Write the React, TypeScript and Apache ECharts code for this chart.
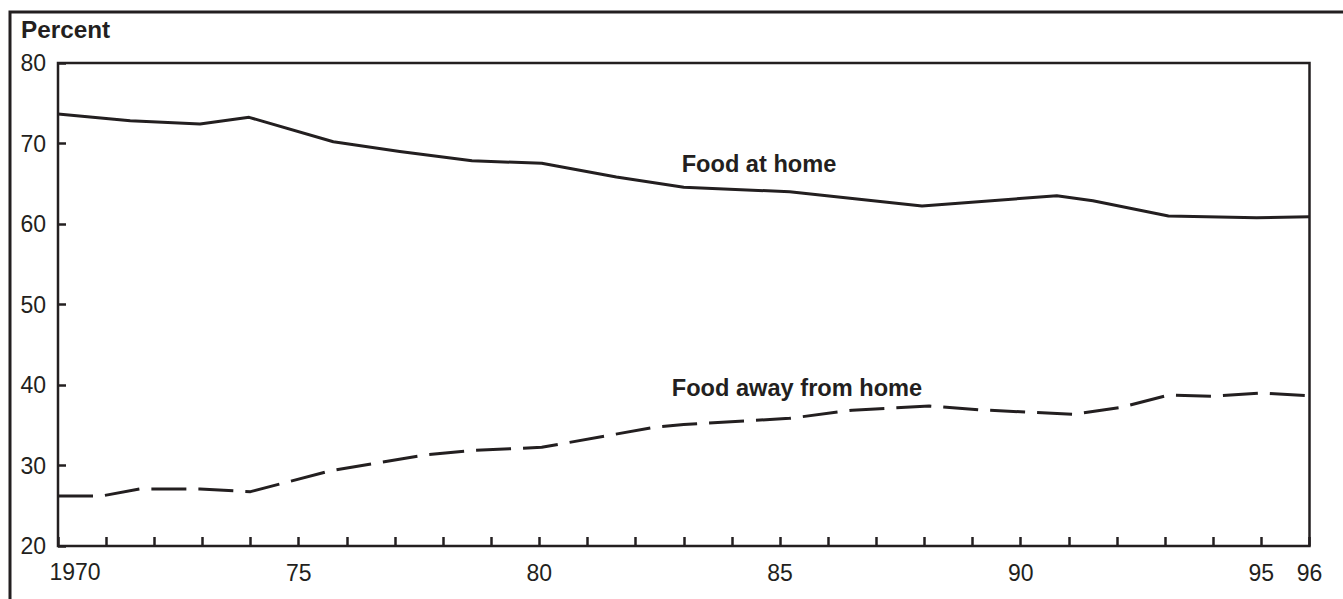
import React, { useEffect, useRef } from "react";
import * as echarts from "echarts";

// Food at home (share of food spending, percent) – vertices
const homeYears = [1970, 1971.5, 1972.95, 1973.97, 1975.72, 1977.1, 1978.6, 1980.05, 1981.6, 1983.0, 1985.2, 1987.95, 1990.75, 1991.5, 1993.07, 1994.9, 1996];
const homeValues = [73.66, 72.83, 72.42, 73.25, 70.22, 69.0, 67.86, 67.54, 65.84, 64.56, 64.01, 62.24, 63.52, 62.89, 61.0, 60.78, 60.9];

// Food away from home
const awayYears = [1970, 1970.9, 1971.7, 1972.95, 1974, 1975.7, 1977.7, 1978.6, 1980.05, 1982.4, 1983.0, 1985.2, 1986.5, 1988.1, 1989.2, 1991.1, 1992.07, 1993.07, 1994.0, 1995.0, 1996];
const awayValues = [26.21, 26.21, 27.08, 27.08, 26.75, 29.4, 31.37, 31.86, 32.26, 34.76, 35.09, 35.86, 36.87, 37.39, 36.9, 36.36, 37.2, 38.75, 38.6, 39.0, 38.65];

// Tick labels on the year axis (1970 drawn separately, shifted right)
const xTickLabels: Record<number, string> = { 1975: "75", 1980: "80", 1985: "85", 1990: "90", 1995: "95", 1996: "96" };
const firstYearLabel = "1970";
const yTitle = "Percent";
const homeLabel = "Food at home";
const awayLabel = "Food away from home";

const INK = "#231f20";
const FONT = "'Liberation Sans', Arial, Helvetica, sans-serif";

export default function App() {
  const ref = useRef<HTMLDivElement>(null);
  useEffect(() => {
    if (!ref.current) return;
    const chart = echarts.init(ref.current, undefined, { renderer: "svg" });
    const home = homeYears.map((x, i) => [x, homeValues[i]]);
    const away = awayYears.map((x, i) => [x, awayValues[i]]);
    chart.setOption({
      animation: false,
      backgroundColor: "#ffffff",
      grid: {
        left: 58,
        right: 33.5,
        top: 63,
        bottom: 53,
        show: true,
        borderColor: INK,
        borderWidth: 2.5,
        backgroundColor: "transparent",
      },
      xAxis: {
        type: "value",
        min: 1970,
        max: 1996,
        interval: 1,
        axisLine: { show: false },
        splitLine: { show: false },
        axisTick: { show: true, inside: true, length: 9, lineStyle: { color: INK, width: 2.5 } },
        axisLabel: {
          show: true,
          margin: 15,
          fontSize: 23,
          fontFamily: FONT,
          color: INK,
          showMinLabel: true,
          showMaxLabel: true,
          formatter: (v: number) => xTickLabels[Math.round(v)] || "",
        },
      },
      yAxis: {
        type: "value",
        min: 20,
        max: 80,
        interval: 10,
        axisLine: { show: false },
        splitLine: { show: false },
        axisTick: { show: true, inside: true, length: 8, lineStyle: { color: INK, width: 2.5 } },
        axisLabel: {
          margin: 12,
          fontSize: 23,
          fontFamily: FONT,
          color: INK,
          showMinLabel: true,
          showMaxLabel: true,
        },
      },
      series: [
        {
          type: "line",
          data: home,
          showSymbol: false,
          symbol: "none",
          lineStyle: { color: INK, width: 3, join: "round" },
          z: 3,
        },
        {
          type: "line",
          data: away,
          showSymbol: false,
          symbol: "none",
          lineStyle: { color: INK, width: 3, type: [35, 12] },
          z: 3,
        },
      ],
      graphic: [
        {
          type: "rect",
          shape: { x: 10, y: 12, width: 1400, height: 700 },
          style: { fill: "none", stroke: INK, lineWidth: 3 },
          silent: true,
          z: 0,
        },
        {
          type: "text",
          style: {
            text: yTitle,
            x: 21,
            y: 29,
            align: "left",
            verticalAlign: "middle",
            font: `bold 24.3px ${FONT}`,
            fill: INK,
          },
        },
        {
          type: "text",
          style: {
            text: firstYearLabel,
            x: 75,
            y: 572,
            align: "center",
            verticalAlign: "middle",
            font: `23px ${FONT}`,
            fill: INK,
          },
        },
        {
          type: "text",
          style: {
            text: homeLabel,
            x: 759,
            y: 164,
            align: "center",
            verticalAlign: "middle",
            font: `bold 23.6px ${FONT}`,
            fill: INK,
          },
        },
        {
          type: "text",
          style: {
            text: awayLabel,
            x: 797,
            y: 388,
            align: "center",
            verticalAlign: "middle",
            font: `bold 23.6px ${FONT}`,
            fill: INK,
          },
        },
      ],
    });
    return () => chart.dispose();
  }, []);
  return (
    <div
      ref={ref}
      style={{ position: "fixed", left: 0, top: 0, width: 1343, height: 599, background: "#fff" }}
    />
  );
}
